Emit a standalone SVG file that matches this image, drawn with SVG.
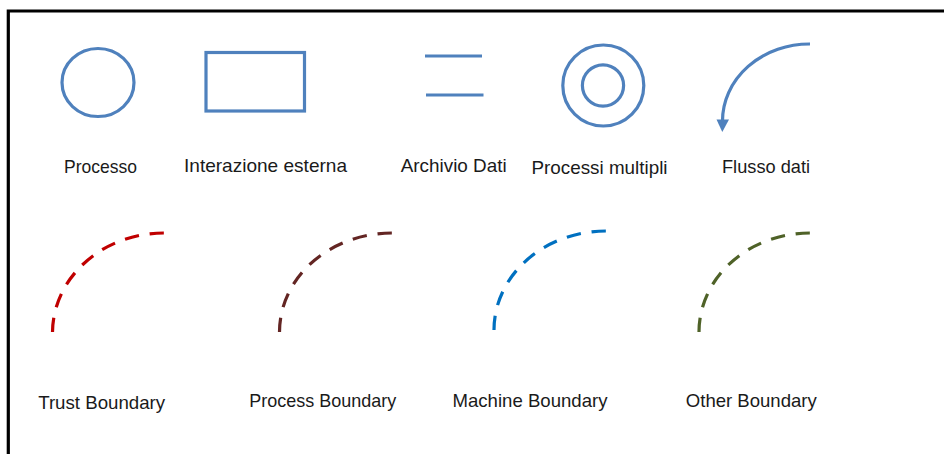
<svg xmlns="http://www.w3.org/2000/svg" width="944" height="454" viewBox="0 0 944 454">
  <defs>
    <style>
      .shape { fill: none; stroke: #4f81bd; stroke-width: 3.2; }
      .lbl { font-family: "Liberation Sans", Arial, sans-serif; font-size: 18.5px; fill: #1a1a1a; text-anchor: middle; }
      .bnd { fill: none; stroke-width: 3.2; stroke-dasharray: 8.7 6.5; }
    </style>
  </defs>
  <rect x="0" y="0" width="944" height="454" fill="#ffffff"/>
  <path d="M8.3 454 V11 H944" fill="none" stroke="#000" stroke-width="3.2"/>

  <g id="processo">
    <ellipse class="shape" cx="98" cy="82.5" rx="36" ry="34"/>
    <text class="lbl" x="100.5" y="173" textLength="73" lengthAdjust="spacingAndGlyphs">Processo</text>
  </g>
  <g id="interazione-esterna">
    <rect class="shape" x="206" y="52.5" width="98.5" height="58.5"/>
    <text class="lbl" x="265.5" y="172" textLength="163" lengthAdjust="spacingAndGlyphs">Interazione esterna</text>
  </g>
  <g id="archivio-dati">
    <line class="shape" x1="425" y1="56" x2="482" y2="56"/>
    <line class="shape" x1="426" y1="95" x2="483.5" y2="95"/>
    <text class="lbl" x="453.7" y="172" textLength="106" lengthAdjust="spacingAndGlyphs">Archivio Dati</text>
  </g>
  <g id="processi-multipli">
    <circle class="shape" cx="603.3" cy="85.5" r="40.5"/>
    <circle class="shape" cx="603" cy="85.5" r="20.6"/>
    <text class="lbl" x="599.5" y="174" textLength="136" lengthAdjust="spacingAndGlyphs">Processi multipli</text>
  </g>
  <g id="flusso-dati">
    <text class="lbl" x="766" y="173" textLength="88" lengthAdjust="spacingAndGlyphs">Flusso dati</text>
  </g>

  <g id="trust-boundary">
    <path class="bnd" stroke="#c00000" pathLength="100" d="M52.5 332 A111.5 100 0 0 1 164 233"/>
    <text class="lbl" x="101.7" y="409" textLength="127" lengthAdjust="spacingAndGlyphs">Trust Boundary</text>
  </g>
  <g id="process-boundary">
    <path class="bnd" stroke="#632523" pathLength="100" d="M279.5 332 A112.5 99 0 0 1 392 233"/>
    <text class="lbl" x="322.7" y="407" textLength="147" lengthAdjust="spacingAndGlyphs">Process Boundary</text>
  </g>
  <g id="machine-boundary">
    <path class="bnd" stroke="#0070c0" pathLength="100" d="M494 330 A112 99 0 0 1 606 231"/>
    <text class="lbl" x="530" y="407" textLength="155" lengthAdjust="spacingAndGlyphs">Machine Boundary</text>
  </g>
  <g id="other-boundary">
    <path class="bnd" stroke="#4f6228" pathLength="100" d="M699 332 A111 99 0 0 1 810 233"/>
    <text class="lbl" x="751.3" y="407" textLength="131" lengthAdjust="spacingAndGlyphs">Other Boundary</text>
  </g>

  <g id="connectors">
    <path class="shape" d="M810 44 A87 77 0 0 0 722.5 121"/>
    <path d="M716.5 119.5 L729 119.5 L722.3 132 z" fill="#4f81bd"/>
  </g>
</svg>
